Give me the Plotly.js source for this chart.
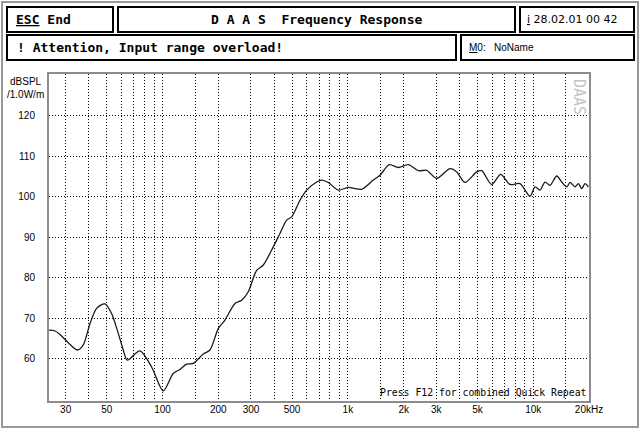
<!DOCTYPE html>
<html>
<head>
<meta charset="utf-8">
<script src="https://cdn.plot.ly/plotly-3.0.1.min.js"></script>
<style>
html,body{margin:0;padding:0;background:#fff;}
#chart{width:641px;height:430px;}
</style>
</head>
<body>
<div id="chart"></div>
<script>
// Frequency response data (Hz, dB SPL / 1.0 W / m)
var freqHz = [24.4, 26.3, 27.9, 31.6, 34.7, 37.3, 40.6, 44.1, 48.9, 53.1, 57.7, 61.4, 64.5, 75.5, 87.3,
  100.9, 114.2, 124.2, 134.9, 146.5, 165.8, 180.2, 199.9, 217.1, 246.0, 267.3, 290.1, 322.0, 349.6,
  388.0, 430.2, 467.4, 497.4, 551.5, 599.5, 678.9, 722.2, 784.3, 887.6, 1005, 1187, 1371, 1491, 1673,
  1871, 2119, 2399, 2663, 3015, 3558, 3867, 4285, 4956, 5273, 5972, 6678, 7496, 8490, 9612, 10230,
  10883, 11583, 12325, 13395, 14253, 15164, 15798, 16811, 17513, 18272, 19038, 19834];
var splDb = [67.0, 66.8, 66.0, 63.5, 62.1, 63.3, 68.6, 72.4, 73.5, 71.1, 66.2, 62.1, 59.6, 61.9, 57.9,
  52.0, 56.3, 57.3, 58.6, 58.8, 61.1, 62.1, 67.4, 69.5, 73.6, 74.4, 76.5, 81.8, 83.1,
  86.8, 90.9, 94.2, 95.0, 99.1, 101.6, 103.6, 104.1, 103.5, 101.6, 102.3, 101.8, 104.1, 105.3, 107.9,
  107.2, 107.9, 106.4, 106.5, 104.5, 106.9, 106.1, 103.5, 106.1, 106.4, 103.0, 105.5, 103.0, 103.2, 100.1, 102.4,
  101.6, 103.6, 102.8, 105.1, 103.6, 102.4, 103.5, 102.4, 103.2, 102.0, 103.2, 102.4];

var xGridVals = [30, 40, 50, 60, 70, 80, 90, 100, 150, 200, 300, 400, 500, 600, 700, 800, 900, 1000,
  1500, 2000, 3000, 4000, 5000, 6000, 7000, 8000, 9000, 10000, 15000, 20000];
var xLabelMap = {30: '30', 50: '50', 100: '100', 200: '200', 300: '300', 500: '500', 1000: '1k',
  2000: '2k', 3000: '3k', 5000: '5k', 10000: '10k', 20000: '20kHz'};
var yTickVals = [60, 70, 80, 90, 100, 110, 120];
var yTickText = ['60', '70', '80', '90', '100', '110', '120'];

var xRangeHz = [24.4, 20000];
var yRange = [49.5, 130.3];

var xTickText = xGridVals.map(function (v) { return xLabelMap[v] || ''; });

// layout helpers: page pixel -> paper coords (plot area 49..589 x 74..401)
var W = 641, H = 430, L = 49, R = 589, T = 74, B = 401;
function px(x) { return (x - L) / (R - L); }
function py(y) { return (B - y) / (B - T); }
function box(x0, y0, x1, y1, w, c) {
  return {type: 'rect', xref: 'paper', yref: 'paper', x0: px(x0), x1: px(x1), y0: py(y1), y1: py(y0),
    line: {color: c || '#000', width: w || 2}, fillcolor: 'rgba(0,0,0,0)', layer: 'above'};
}

var monoB = {family: 'DejaVu Sans Mono', size: 13, color: '#000', weight: 'bold'};
var thin = {family: 'DejaVu Sans', size: 11, color: '#000'};

var trace = {
  x: freqHz, y: splDb, type: 'scatter', mode: 'lines',
  line: {color: '#1a1a1a', width: 1.3, shape: 'spline', smoothing: 0.8},
  hoverinfo: 'skip'
};

var layout = {
  width: W, height: H,
  margin: {l: L, r: W - R, t: T, b: H - B, pad: 0},
  paper_bgcolor: '#fff', plot_bgcolor: '#fff',
  showlegend: false,
  xaxis: {
    type: 'log', range: [Math.log10(xRangeHz[0]), Math.log10(xRangeHz[1])],
    tickmode: 'array', tickvals: xGridVals, ticktext: xTickText,
    showgrid: true, gridcolor: '#000', gridwidth: 1, griddash: '1px,2px',
    ticks: '', zeroline: false, ticklabelstandoff: -2,
    showline: true, mirror: true, linecolor: '#8c8c8c', linewidth: 2,
    tickfont: {family: 'Liberation Sans', size: 10, color: '#000'},
    fixedrange: true
  },
  yaxis: {
    range: yRange, tickmode: 'array', tickvals: yTickVals, ticktext: yTickText,
    showgrid: true, gridcolor: '#000', gridwidth: 1, griddash: '1px,2px',
    ticks: '', zeroline: false, ticklabelstandoff: 10,
    showline: true, mirror: true, linecolor: '#8c8c8c', linewidth: 2,
    tickfont: {family: 'Liberation Sans', size: 10, color: '#000'},
    fixedrange: true
  },
  shapes: [
    box(2, 2, 638, 427, 2, '#999'),
    box(7, 7, 113, 32),
    box(118, 7, 515, 32),
    box(520, 7, 634, 32),
    box(7, 35, 456, 60),
    box(461, 35, 634, 60)
  ],
  annotations: [
    {xref: 'paper', yref: 'paper', x: px(14), y: py(19.5), xanchor: 'left', yanchor: 'middle',
      text: '<u>ESC</u>\u00a0End', showarrow: false, font: monoB},
    {xref: 'paper', yref: 'paper', x: px(316.5), y: py(19.5), xanchor: 'center', yanchor: 'middle',
      text: 'D A A S\u00a0\u00a0Frequency Response', showarrow: false, font: monoB},
    {xref: 'paper', yref: 'paper', x: px(525), y: py(19.5), xanchor: 'left', yanchor: 'middle',
      text: '<u>i</u>\u00a028.02.01\u00a000\u00a042', showarrow: false, font: thin},
    {xref: 'paper', yref: 'paper', x: px(15), y: py(47.5), xanchor: 'left', yanchor: 'middle',
      text: '! Attention, Input range overload!', showarrow: false, font: monoB},
    {xref: 'paper', yref: 'paper', x: px(467), y: py(47.5), xanchor: 'left', yanchor: 'middle',
      text: '<u>M</u>0:\u00a0\u00a0\u00a0NoName', showarrow: false, font: {family: 'Liberation Sans', size: 10, color: '#000'}},
    {xref: 'paper', yref: 'paper', x: px(25.5), y: py(74), xanchor: 'center', yanchor: 'top',
      text: 'dBSPL<br>/1.0W/m', showarrow: false, align: 'center',
      font: {family: 'Liberation Sans', size: 10, color: '#000'}},
    {xref: 'paper', yref: 'paper', x: px(588), y: py(400), xanchor: 'right', yanchor: 'bottom',
      text: 'Press F12 for combined Quick Repeat', showarrow: false,
      font: {family: 'DejaVu Sans Mono', size: 9.8, color: '#000'}},
    {xref: 'paper', yref: 'paper', x: px(579), y: py(97), xanchor: 'center', yanchor: 'middle',
      text: 'DAAS', textangle: 90, showarrow: false,
      font: {family: 'DejaVu Sans Mono', size: 15, color: '#c4c4c4'}}
  ]
};

Plotly.newPlot('chart', [trace], layout, {displayModeBar: false, staticPlot: true});
</script>
</body>
</html>
